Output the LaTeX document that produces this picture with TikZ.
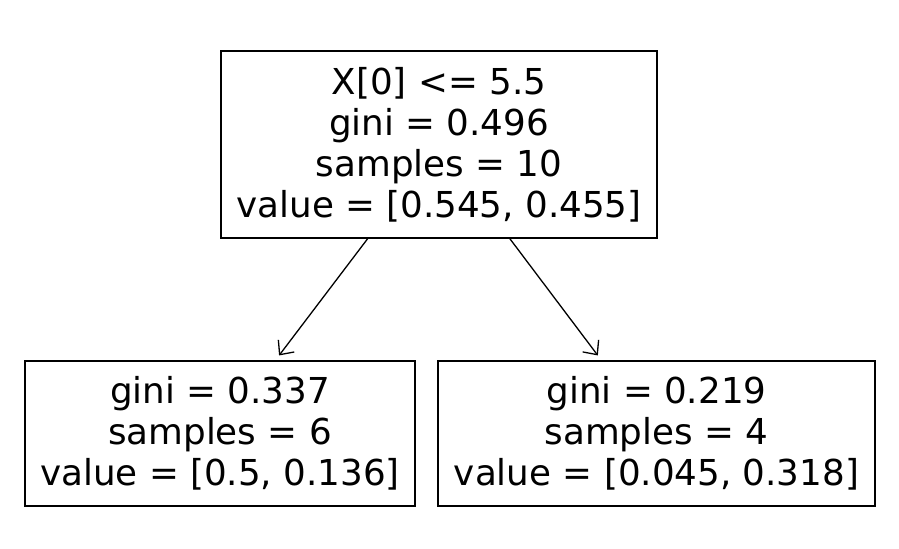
\documentclass[tikz,border=0pt]{standalone}
\usepackage{fontspec}
\setmainfont{DejaVu Sans}
\usepackage{tikz}
\usetikzlibrary{arrows.meta,positioning}
\tikzstyle{treenode}=[draw, rectangle, line width=0.75pt,
                      inner sep=0pt, align=center,
                      font=\fontsize{17.85}{20.5}\selectfont]
\tikzstyle{edge}    =[-{Straight Barb[length=5.5pt,width=10pt]},
                      shorten >=3pt, line width=0.65pt]

\begin{document}
\begin{tikzpicture}[x=0.5pt,y=-0.5pt]
    \useasboundingbox (0,0) rectangle (899,549);

    \draw (439,144.5) node (0) [treenode, minimum width=218pt, minimum height=93.5pt]
        {X[0] <= 5.5\\gini = 0.496\\samples = 10\\value = [0.545, 0.455]};
    \draw (220,433.5) node (1) [treenode, minimum width=195pt, minimum height=72.5pt]
        {gini = 0.337\\samples = 6\\value = [0.5, 0.136]};
    \draw (656.5,433.5) node (2) [treenode, minimum width=218.5pt, minimum height=72.5pt]
        {gini = 0.219\\samples = 4\\value = [0.045, 0.318]};

    \foreach \i/\j in {0/1,0/2}
        \draw [edge] (\i) to (\j);

\end{tikzpicture}
\end{document}
